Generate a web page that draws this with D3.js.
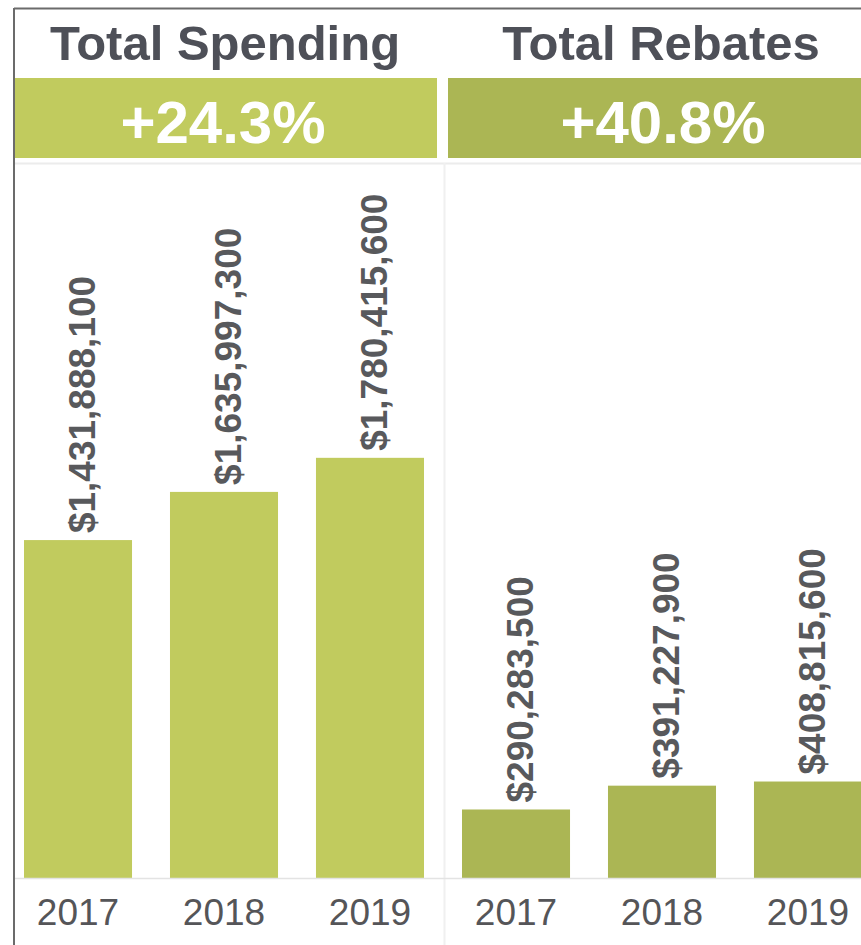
<!DOCTYPE html>
<html>
<head>
<meta charset="utf-8">
<script src="https://cdn.jsdelivr.net/npm/d3@7/dist/d3.min.js"></script>
<style>
  html, body { margin: 0; padding: 0; background: #fff; }
  svg { display: block; }
  text { font-family: "Liberation Sans", Arial, sans-serif; }
</style>
</head>
<body>
<svg id="chart" width="861" height="945"></svg>
<script>
// ---- data ----
const years = ["2017", "2018", "2019"];
const spending = [1431888100, 1635997300, 1780415600];
const rebates = [290283500, 391227900, 408815600];
const panelTitles = ["Total Spending", "Total Rebates"];
const panelChanges = ["+24.3%", "+40.8%"];

const panels = [
  { title: panelTitles[0], change: panelChanges[0], values: spending, color: "#c1cb5e", band: "#c1cb5e", x0: 15, bandX: 15, bandW: 422, cx: 225, pcx: 223 },
  { title: panelTitles[1], change: panelChanges[1], values: rebates, color: "#abb654", band: "#abb654", x0: 453, bandX: 448, bandW: 413, cx: 661, pcx: 663 }
];

const svg = d3.select("#chart");
const baseY = 878;

const y = d3.scaleLinear().domain([0, 3.0e9]).range([baseY, 170]);
const x = d3.scaleBand().domain(years).range([9, 409]).paddingInner(0.26).paddingOuter(0);

const fmt = v => "$" + d3.format(",")(v);

// light separators
svg.append("line").attr("x1", 15).attr("x2", 861).attr("y1", 163.5).attr("y2", 163.5)
  .attr("stroke", "#ececec").attr("stroke-width", 2);
svg.append("line").attr("x1", 444.5).attr("x2", 444.5).attr("y1", 163).attr("y2", 945)
  .attr("stroke", "#f0f0f0").attr("stroke-width", 2);

panels.forEach(p => {
  // title
  svg.append("text")
    .attr("x", p.cx).attr("y", 60)
    .attr("text-anchor", "middle")
    .attr("font-size", 49).attr("font-weight", "bold")
    .attr("fill", "#4e5058")
    .text(p.title);

  // header band
  svg.append("rect")
    .attr("x", p.bandX).attr("y", 78).attr("width", p.bandW).attr("height", 80)
    .attr("fill", p.band);
  svg.append("text")
    .attr("x", p.pcx).attr("y", 143)
    .attr("text-anchor", "middle")
    .attr("font-size", 60).attr("font-weight", "bold")
    .attr("fill", "#ffffff")
    .text(p.change);

  const g = svg.append("g").attr("transform", `translate(${p.x0},0)`);

  g.selectAll("rect.bar").data(p.values).join("rect")
    .attr("class", "bar")
    .attr("x", (d, i) => x(years[i]))
    .attr("width", x.bandwidth())
    .attr("y", d => y(d))
    .attr("height", d => baseY - y(d))
    .attr("fill", p.color);

  g.selectAll("text.val").data(p.values).join("text")
    .attr("class", "val")
    .attr("transform", (d, i) => `translate(${x(years[i]) + x.bandwidth() / 2 + 4},${y(d) - 7}) rotate(-90)`)
    .attr("dy", "0.35em")
    .attr("text-anchor", "start")
    .attr("font-size", 37).attr("font-weight", "bold")
    .attr("fill", "#58595c")
    .text(d => fmt(d));

  const axis = d3.axisBottom(x).tickSize(0).tickPadding(0);
  const ag = g.append("g").attr("transform", `translate(0,${baseY})`).call(axis);
  ag.select(".domain").remove();
  ag.selectAll("text")
    .attr("y", 47).attr("dy", 0)
    .attr("font-size", 37)
    .attr("font-family", "Liberation Sans, Arial, sans-serif")
    .attr("fill", "#555558");
});

// baseline
svg.append("line").attr("x1", 15).attr("x2", 861).attr("y1", baseY + 0.5).attr("y2", baseY + 0.5)
  .attr("stroke", "#e3e3e3").attr("stroke-width", 1.5);

// outer border (top and left)
svg.append("line").attr("x1", 14).attr("x2", 861).attr("y1", 8.5).attr("y2", 8.5)
  .attr("stroke", "#6b6b6b").attr("stroke-width", 2);
svg.append("line").attr("x1", 14).attr("x2", 14).attr("y1", 8).attr("y2", 945)
  .attr("stroke", "#6b6b6b").attr("stroke-width", 2);
</script>
</body>
</html>
